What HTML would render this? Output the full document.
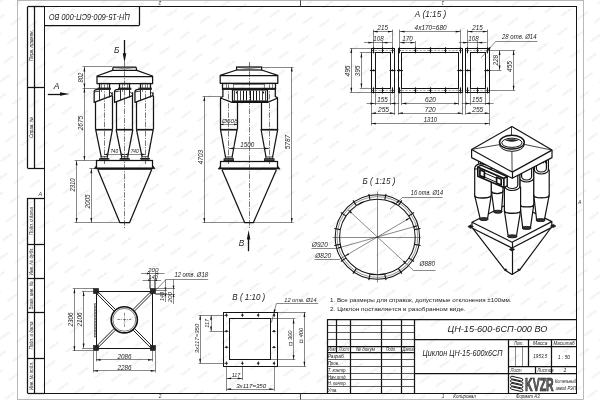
<!DOCTYPE html>
<html><head><meta charset="utf-8"><title>ЦН-15-600-6СП-000 ВО</title>
<style>html,body{margin:0;padding:0;background:#fff;overflow:hidden}svg{display:block;filter:grayscale(1)}text{font-family:"Liberation Sans",sans-serif}</style></head>
<body>
<svg width="600" height="400" viewBox="0 0 600 400">
<rect width="600" height="400" fill="#fff"/>
<defs><pattern id="wm" width="16.8" height="19.4" patternUnits="userSpaceOnUse" patternTransform="rotate(11.3) translate(12.3 8.3)"><text x="8.4" y="10" font-size="2.7" fill="#e3e3e3" text-anchor="middle" font-weight="bold" transform="rotate(-46 8.4 10)">KVZR.RU</text></pattern></defs><rect x="0" y="0" width="600" height="400" fill="url(#wm)"/>
<rect x="17.5" y="0.5" width="566" height="399" fill="none" stroke="#a8a8a8" stroke-width="0.8"/>
<rect x="44.5" y="6.5" width="532" height="387" fill="none" stroke="#141414" stroke-width="1"/>
<line x1="44.4" y1="25.5" x2="139" y2="25.5" stroke="#141414" stroke-width="1.25"/>
<line x1="139.5" y1="6.8" x2="139.5" y2="25.6" stroke="#141414" stroke-width="1.25"/>
<text dominant-baseline="central" x="89.5" y="16.5" font-size="9.2" text-anchor="middle" fill="#222" transform="rotate(180 89.5 16.5)" textLength="81" lengthAdjust="spacingAndGlyphs" font-style="italic">ЦН-15-600-6СП-000 ВО</text>
<line x1="27.5" y1="6.5" x2="44.4" y2="6.5" stroke="#141414" stroke-width="1.25"/>
<line x1="27.5" y1="6.8" x2="27.5" y2="168" stroke="#141414" stroke-width="1.25"/>
<line x1="34.5" y1="6.8" x2="34.5" y2="168" stroke="#141414" stroke-width="1.25"/>
<line x1="27.5" y1="168.5" x2="44.4" y2="168.5" stroke="#141414" stroke-width="1.25"/>
<line x1="27.5" y1="87.5" x2="44.4" y2="87.5" stroke="#141414" stroke-width="1.25"/>
<text x="32.6" y="45.5" font-size="5" text-anchor="middle" fill="#222" transform="rotate(-90 32.6 45.5)" textLength="31" lengthAdjust="spacingAndGlyphs" font-style="italic">Перв. примен.</text>
<text x="32.6" y="127.5" font-size="5" text-anchor="middle" fill="#222" transform="rotate(-90 32.6 127.5)" textLength="21" lengthAdjust="spacingAndGlyphs" font-style="italic">Справ. №</text>
<line x1="27.5" y1="198.5" x2="44.4" y2="198.5" stroke="#141414" stroke-width="1.25"/>
<line x1="27.5" y1="198" x2="27.5" y2="393.2" stroke="#141414" stroke-width="1.25"/>
<line x1="34.5" y1="198" x2="34.5" y2="393.2" stroke="#141414" stroke-width="1.25"/>
<line x1="27.5" y1="393.5" x2="44.4" y2="393.5" stroke="#141414" stroke-width="1.25"/>
<line x1="27.5" y1="244.5" x2="44.4" y2="244.5" stroke="#141414" stroke-width="1.25"/>
<line x1="27.5" y1="278.5" x2="44.4" y2="278.5" stroke="#141414" stroke-width="1.25"/>
<line x1="27.5" y1="312.5" x2="44.4" y2="312.5" stroke="#141414" stroke-width="1.25"/>
<line x1="27.5" y1="358.5" x2="44.4" y2="358.5" stroke="#141414" stroke-width="1.25"/>
<text x="32.7" y="221" font-size="5" text-anchor="middle" fill="#222" transform="rotate(-90 32.7 221)" textLength="28" lengthAdjust="spacingAndGlyphs" font-style="italic">Подп. и дата</text>
<text x="32.7" y="261.3" font-size="5" text-anchor="middle" fill="#222" transform="rotate(-90 32.7 261.3)" textLength="28" lengthAdjust="spacingAndGlyphs" font-style="italic">Инв. № дубл.</text>
<text x="32.7" y="295.4" font-size="5" text-anchor="middle" fill="#222" transform="rotate(-90 32.7 295.4)" textLength="28" lengthAdjust="spacingAndGlyphs" font-style="italic">Взам. инв. №</text>
<text x="32.7" y="335.6" font-size="5" text-anchor="middle" fill="#222" transform="rotate(-90 32.7 335.6)" textLength="28" lengthAdjust="spacingAndGlyphs" font-style="italic">Подп. и дата</text>
<text x="32.7" y="376" font-size="5" text-anchor="middle" fill="#222" transform="rotate(-90 32.7 376)" textLength="28" lengthAdjust="spacingAndGlyphs" font-style="italic">Инв. № подл.</text>
<text x="160" y="1.2" font-size="4.8" text-anchor="middle" fill="#333" transform="rotate(180 160 1.2)" font-style="italic">2</text>
<text x="443" y="1.2" font-size="4.8" text-anchor="middle" fill="#333" transform="rotate(180 443 1.2)" font-style="italic">1</text>
<text x="160" y="398.4" font-size="4.8" text-anchor="middle" fill="#333" font-style="italic">2</text>
<text x="40.3" y="195.9" font-size="5.4" text-anchor="middle" fill="#333" font-style="italic">А</text>
<text x="579.8" y="203.9" font-size="5.2" text-anchor="middle" fill="#333" font-style="italic">А</text>
<line x1="300.5" y1="0.3" x2="300.5" y2="6.8" stroke="#333" stroke-width="0.9"/>
<line x1="300.5" y1="393.2" x2="300.5" y2="399.6" stroke="#333" stroke-width="0.9"/>
<line x1="327.2" y1="319.5" x2="576.2" y2="319.5" stroke="#141414" stroke-width="1.25"/>
<line x1="327.5" y1="319.2" x2="327.5" y2="393.2" stroke="#141414" stroke-width="1.25"/>
<line x1="350.5" y1="319.2" x2="350.5" y2="393.2" stroke="#141414" stroke-width="1.25"/>
<line x1="381.5" y1="319.2" x2="381.5" y2="393.2" stroke="#141414" stroke-width="1.25"/>
<line x1="401.5" y1="319.2" x2="401.5" y2="393.2" stroke="#141414" stroke-width="1.25"/>
<line x1="414.5" y1="319.2" x2="414.5" y2="393.2" stroke="#141414" stroke-width="1.25"/>
<line x1="336.5" y1="319.2" x2="336.5" y2="352.85" stroke="#141414" stroke-width="1.25"/>
<line x1="327.2" y1="325.5" x2="414.7" y2="325.5" stroke="#262626" stroke-width="0.75"/>
<line x1="327.2" y1="332.5" x2="414.7" y2="332.5" stroke="#262626" stroke-width="0.75"/>
<line x1="327.2" y1="339.5" x2="414.7" y2="339.5" stroke="#262626" stroke-width="0.75"/>
<line x1="327.2" y1="346.5" x2="414.7" y2="346.5" stroke="#141414" stroke-width="1.25"/>
<line x1="327.2" y1="352.5" x2="414.7" y2="352.5" stroke="#141414" stroke-width="1.25"/>
<line x1="327.2" y1="359.5" x2="414.7" y2="359.5" stroke="#262626" stroke-width="0.75"/>
<line x1="327.2" y1="366.5" x2="414.7" y2="366.5" stroke="#262626" stroke-width="0.75"/>
<line x1="327.2" y1="373.5" x2="414.7" y2="373.5" stroke="#262626" stroke-width="0.75"/>
<line x1="327.2" y1="379.5" x2="414.7" y2="379.5" stroke="#262626" stroke-width="0.75"/>
<line x1="327.2" y1="386.5" x2="414.7" y2="386.5" stroke="#262626" stroke-width="0.75"/>
<line x1="414.7" y1="339.5" x2="576.2" y2="339.5" stroke="#141414" stroke-width="1.25"/>
<line x1="414.7" y1="373.5" x2="576.2" y2="373.5" stroke="#141414" stroke-width="1.25"/>
<line x1="508.5" y1="339.39" x2="508.5" y2="393.2" stroke="#141414" stroke-width="1.25"/>
<line x1="528.5" y1="339.39" x2="528.5" y2="366.31" stroke="#141414" stroke-width="1.25"/>
<line x1="551.5" y1="339.39" x2="551.5" y2="373.04" stroke="#141414" stroke-width="1.25"/>
<line x1="508.8" y1="346.5" x2="576.2" y2="346.5" stroke="#141414" stroke-width="1.25"/>
<line x1="508.8" y1="366.5" x2="576.2" y2="366.5" stroke="#141414" stroke-width="1.25"/>
<line x1="535.5" y1="366.31" x2="535.5" y2="373.04" stroke="#141414" stroke-width="1.25"/>
<line x1="515.5" y1="346.12" x2="515.5" y2="366.31" stroke="#262626" stroke-width="0.55"/>
<line x1="522.5" y1="346.12" x2="522.5" y2="366.31" stroke="#262626" stroke-width="0.55"/>
<text x="331.7" y="351.42" font-size="6.2" text-anchor="middle" fill="#222" textLength="7.6" lengthAdjust="spacingAndGlyphs" font-style="italic">Изм</text>
<text x="343.8" y="351.42" font-size="6.2" text-anchor="middle" fill="#222" textLength="10" lengthAdjust="spacingAndGlyphs" font-style="italic">Лист</text>
<text x="365.4" y="351.42" font-size="6.2" text-anchor="middle" fill="#222" textLength="19" lengthAdjust="spacingAndGlyphs" font-style="italic">№ докум</text>
<text x="391" y="351.42" font-size="6.2" text-anchor="middle" fill="#222" textLength="10.5" lengthAdjust="spacingAndGlyphs" font-style="italic">Подп.</text>
<text x="408.1" y="351.42" font-size="6.2" text-anchor="middle" fill="#222" textLength="11.2" lengthAdjust="spacingAndGlyphs" font-style="italic">Дата</text>
<text x="327.7" y="358.45" font-size="6.1" text-anchor="start" fill="#222" textLength="17.2" lengthAdjust="spacingAndGlyphs" font-style="italic">Разраб.</text>
<text x="327.7" y="365.18" font-size="6.1" text-anchor="start" fill="#222" textLength="11.5" lengthAdjust="spacingAndGlyphs" font-style="italic">Пров.</text>
<text x="327.7" y="371.91" font-size="6.1" text-anchor="start" fill="#222" textLength="19" lengthAdjust="spacingAndGlyphs" font-style="italic">Т. контр.</text>
<text x="327.7" y="378.64" font-size="6.1" text-anchor="start" fill="#222" textLength="19" lengthAdjust="spacingAndGlyphs" font-style="italic">Нач.отд.</text>
<text x="327.7" y="385.37" font-size="6.1" text-anchor="start" fill="#222" textLength="19" lengthAdjust="spacingAndGlyphs" font-style="italic">Н. контр.</text>
<text x="327.7" y="392.1" font-size="6.1" text-anchor="start" fill="#222" textLength="9.8" lengthAdjust="spacingAndGlyphs" font-style="italic">Утв.</text>
<text x="497.5" y="332" font-size="9" text-anchor="middle" fill="#222" textLength="100" lengthAdjust="spacingAndGlyphs" font-style="italic">ЦН-15-600-6СП-000 ВО</text>
<text x="462.5" y="356.1" font-size="9.7" text-anchor="middle" fill="#222" textLength="80" lengthAdjust="spacingAndGlyphs" font-style="italic">Циклон ЦН-15-600х6СП</text>
<text x="518.8" y="344.89" font-size="6" text-anchor="middle" fill="#222" textLength="9.5" lengthAdjust="spacingAndGlyphs" font-style="italic">Лит.</text>
<text x="540.3" y="344.89" font-size="6" text-anchor="middle" fill="#222" textLength="14.5" lengthAdjust="spacingAndGlyphs" font-style="italic">Масса</text>
<text x="564" y="344.89" font-size="6" text-anchor="middle" fill="#222" textLength="21" lengthAdjust="spacingAndGlyphs" font-style="italic">Масштаб</text>
<text x="540.3" y="358.3" font-size="6" text-anchor="middle" fill="#222" textLength="14" lengthAdjust="spacingAndGlyphs" font-style="italic">1953,5</text>
<text x="564" y="358.5" font-size="6.2" text-anchor="middle" fill="#222" textLength="12" lengthAdjust="spacingAndGlyphs" font-style="italic">1 : 50</text>
<text x="510.6" y="371.81" font-size="6" text-anchor="start" fill="#222" textLength="11" lengthAdjust="spacingAndGlyphs" font-style="italic">Лист</text>
<text x="537.2" y="371.81" font-size="6" text-anchor="start" fill="#222" textLength="16.5" lengthAdjust="spacingAndGlyphs" font-style="italic">Листов</text>
<text x="565" y="371.71" font-size="6" text-anchor="middle" fill="#222" font-style="italic">1</text>
<text x="443" y="398.4" font-size="4.8" text-anchor="middle" fill="#333" font-style="italic">1</text>
<text x="464.6" y="397.6" font-size="6" text-anchor="middle" fill="#222" textLength="22.5" lengthAdjust="spacingAndGlyphs" font-style="italic">Копировал</text>
<text x="527.8" y="397.6" font-size="6" text-anchor="middle" fill="#222" textLength="23.5" lengthAdjust="spacingAndGlyphs" font-style="italic">Формат А3</text>
<text x="565.6" y="382.8" font-size="6.1" text-anchor="middle" fill="#222" textLength="21" lengthAdjust="spacingAndGlyphs" font-style="italic">Котельный</text>
<text x="565.8" y="390.2" font-size="6.1" text-anchor="middle" fill="#222" textLength="20" lengthAdjust="spacingAndGlyphs" font-style="italic">завод РЭП</text>
<rect x="510.4" y="377.4" width="12.6" height="2.5" rx="1.25" fill="#fff" stroke="#111" stroke-width="0.9" transform="rotate(13 516.7 378.65)"/>
<rect x="510.4" y="380.9" width="12.6" height="2.5" rx="1.25" fill="#fff" stroke="#111" stroke-width="0.9" transform="rotate(13 516.7 382.15)"/>
<rect x="510.4" y="384.4" width="12.6" height="2.5" rx="1.25" fill="#fff" stroke="#111" stroke-width="0.9" transform="rotate(13 516.7 385.65)"/>
<rect x="510.4" y="387.9" width="12.6" height="2.5" rx="1.25" fill="#fff" stroke="#111" stroke-width="0.9" transform="rotate(13 516.7 389.15)"/>
<text x="539.4" y="390.7" font-size="19.2" text-anchor="middle" font-weight="bold" fill="#666" stroke="#111" stroke-width="0.7" textLength="28.6" lengthAdjust="spacingAndGlyphs">KVZR</text>
<text x="330" y="302.1" font-size="5.9" text-anchor="start" fill="#222" textLength="181.5" lengthAdjust="spacingAndGlyphs">1. Все размеры для справок, допустимые отклонения ±100мм.</text>
<text x="330" y="311.1" font-size="5.9" text-anchor="start" fill="#222" textLength="135.5" lengthAdjust="spacingAndGlyphs">2. Циклон поставляется в разобранном виде.</text>
<line x1="124.5" y1="62" x2="124.5" y2="228.5" stroke="#222" stroke-width="0.6" stroke-dasharray="5.5 1.3 1.2 1.3"/>
<polygon points="113.2,67.2 112.5,70.3 136.7,70.3 136,67.2" fill="none" stroke="#141414" stroke-width="1.25" stroke-linejoin="round"/>
<polyline points="112.5,70.3 97,76 97,83.5 152.6,83.5 152.6,76 136.7,70.3" fill="none" stroke="#141414" stroke-width="1.25" stroke-linejoin="round"/>
<line x1="97" y1="76.5" x2="152.6" y2="76.5" stroke="#141414" stroke-width="1.25"/>
<path d="M114,67.6 Q124.6,70 135.2,67.6" fill="none" stroke="#262626" stroke-width="0.55" stroke-linejoin="round"/>
<line x1="104.5" y1="84.5" x2="104.5" y2="164" stroke="#222" stroke-width="0.6" stroke-dasharray="5.5 1.3 1.2 1.3"/>
<rect x="99.5" y="83.5" width="10" height="5" fill="none" stroke="#141414" stroke-width="1.25"/>
<line x1="101.5" y1="83.4" x2="101.5" y2="88.1" stroke="#262626" stroke-width="0.55"/>
<line x1="107.5" y1="83.4" x2="107.5" y2="88.1" stroke="#262626" stroke-width="0.55"/>
<rect x="98.05" y="88.1" width="12.5" height="1.3" fill="#333" stroke="#141414" stroke-width="0.8"/>
<path d="M98.05,89.4 Q94.15,89.5 94.15,91.6 L94.15,102.4 L112.15,95.7 L112.15,92.2" fill="none" stroke="#141414" stroke-width="1.25" stroke-linejoin="round"/>
<line x1="94.15" y1="91.9" x2="99.25" y2="91.1" stroke="#141414" stroke-width="0.8"/>
<line x1="109.45" y1="91.8" x2="112.15" y2="94" stroke="#141414" stroke-width="0.8"/>
<line x1="99.5" y1="89.4" x2="99.5" y2="99.9" stroke="#141414" stroke-width="0.9"/>
<line x1="109.5" y1="89.4" x2="109.5" y2="97.4" stroke="#141414" stroke-width="0.9"/>
<line x1="101.5" y1="89.4" x2="101.5" y2="92" stroke="#262626" stroke-width="0.55"/>
<line x1="95.5" y1="102" x2="95.5" y2="129.3" stroke="#141414" stroke-width="1.25"/>
<line x1="112.5" y1="95.8" x2="112.5" y2="129.3" stroke="#141414" stroke-width="1.25"/>
<line x1="95.65" y1="129.5" x2="112.45" y2="129.5" stroke="#141414" stroke-width="1.25"/>
<line x1="95.65" y1="130.5" x2="112.45" y2="130.5" stroke="#262626" stroke-width="0.55"/>
<line x1="95.65" y1="129.3" x2="101.25" y2="156.8" stroke="#141414" stroke-width="1.25"/>
<line x1="112.45" y1="129.3" x2="107.25" y2="156.8" stroke="#141414" stroke-width="1.25"/>
<rect x="101.05" y="156.8" width="6.4" height="1.8" fill="none" stroke="#141414" stroke-width="0.8"/>
<rect x="99.65" y="158.6" width="9.2" height="1.8" fill="#555" stroke="#141414" stroke-width="0.8"/>
<rect x="119.5" y="83.5" width="10" height="5" fill="none" stroke="#141414" stroke-width="1.25"/>
<line x1="122.5" y1="83.4" x2="122.5" y2="88.1" stroke="#262626" stroke-width="0.55"/>
<line x1="127.5" y1="83.4" x2="127.5" y2="88.1" stroke="#262626" stroke-width="0.55"/>
<rect x="118.45" y="88.1" width="12.5" height="1.3" fill="#333" stroke="#141414" stroke-width="0.8"/>
<path d="M118.45,89.4 Q114.55,89.5 114.55,91.6 L114.55,102.4 L132.55,95.7 L132.55,92.2" fill="none" stroke="#141414" stroke-width="1.25" stroke-linejoin="round"/>
<line x1="114.55" y1="91.9" x2="119.65" y2="91.1" stroke="#141414" stroke-width="0.8"/>
<line x1="129.85" y1="91.8" x2="132.55" y2="94" stroke="#141414" stroke-width="0.8"/>
<line x1="120.5" y1="89.4" x2="120.5" y2="99.9" stroke="#141414" stroke-width="0.9"/>
<line x1="129.5" y1="89.4" x2="129.5" y2="97.4" stroke="#141414" stroke-width="0.9"/>
<line x1="122.5" y1="89.4" x2="122.5" y2="92" stroke="#262626" stroke-width="0.55"/>
<line x1="116.5" y1="102" x2="116.5" y2="129.3" stroke="#141414" stroke-width="1.25"/>
<line x1="132.5" y1="95.8" x2="132.5" y2="129.3" stroke="#141414" stroke-width="1.25"/>
<line x1="116.05" y1="129.5" x2="132.85" y2="129.5" stroke="#141414" stroke-width="1.25"/>
<line x1="116.05" y1="130.5" x2="132.85" y2="130.5" stroke="#262626" stroke-width="0.55"/>
<line x1="116.05" y1="129.3" x2="121.65" y2="156.8" stroke="#141414" stroke-width="1.25"/>
<line x1="132.85" y1="129.3" x2="127.65" y2="156.8" stroke="#141414" stroke-width="1.25"/>
<rect x="121.45" y="156.8" width="6.4" height="1.8" fill="none" stroke="#141414" stroke-width="0.8"/>
<rect x="120.05" y="158.6" width="9.2" height="1.8" fill="#555" stroke="#141414" stroke-width="0.8"/>
<line x1="145.5" y1="84.5" x2="145.5" y2="164" stroke="#222" stroke-width="0.6" stroke-dasharray="5.5 1.3 1.2 1.3"/>
<rect x="140.5" y="83.5" width="10" height="5" fill="none" stroke="#141414" stroke-width="1.25"/>
<line x1="142.5" y1="83.4" x2="142.5" y2="88.1" stroke="#262626" stroke-width="0.55"/>
<line x1="147.5" y1="83.4" x2="147.5" y2="88.1" stroke="#262626" stroke-width="0.55"/>
<rect x="138.85" y="88.1" width="12.5" height="1.3" fill="#333" stroke="#141414" stroke-width="0.8"/>
<path d="M138.85,89.4 Q134.95,89.5 134.95,91.6 L134.95,102.4 L152.95,95.7 L152.95,92.2" fill="none" stroke="#141414" stroke-width="1.25" stroke-linejoin="round"/>
<line x1="134.95" y1="91.9" x2="140.05" y2="91.1" stroke="#141414" stroke-width="0.8"/>
<line x1="150.25" y1="91.8" x2="152.95" y2="94" stroke="#141414" stroke-width="0.8"/>
<line x1="140.5" y1="89.4" x2="140.5" y2="99.9" stroke="#141414" stroke-width="0.9"/>
<line x1="150.5" y1="89.4" x2="150.5" y2="97.4" stroke="#141414" stroke-width="0.9"/>
<line x1="142.5" y1="89.4" x2="142.5" y2="92" stroke="#262626" stroke-width="0.55"/>
<line x1="136.5" y1="102" x2="136.5" y2="129.3" stroke="#141414" stroke-width="1.25"/>
<line x1="153.5" y1="95.8" x2="153.5" y2="129.3" stroke="#141414" stroke-width="1.25"/>
<line x1="136.45" y1="129.5" x2="153.25" y2="129.5" stroke="#141414" stroke-width="1.25"/>
<line x1="136.45" y1="130.5" x2="153.25" y2="130.5" stroke="#262626" stroke-width="0.55"/>
<line x1="136.45" y1="129.3" x2="142.05" y2="156.8" stroke="#141414" stroke-width="1.25"/>
<line x1="153.25" y1="129.3" x2="148.05" y2="156.8" stroke="#141414" stroke-width="1.25"/>
<rect x="141.85" y="156.8" width="6.4" height="1.8" fill="none" stroke="#141414" stroke-width="0.8"/>
<rect x="140.45" y="158.6" width="9.2" height="1.8" fill="#555" stroke="#141414" stroke-width="0.8"/>
<rect x="96.5" y="160.5" width="56" height="8" fill="none" stroke="#141414" stroke-width="1.25"/>
<line x1="96.4" y1="167.5" x2="152.8" y2="167.5" stroke="#262626" stroke-width="0.55"/>
<polygon points="96.4,165.8 94.2,168.6 96.4,168.6" fill="#333" stroke="#141414" stroke-width="0.8" stroke-linejoin="round"/>
<polygon points="152.8,165.8 155,168.6 152.8,168.6" fill="#333" stroke="#141414" stroke-width="0.8" stroke-linejoin="round"/>
<line x1="97.6" y1="169.5" x2="151.8" y2="169.5" stroke="#141414" stroke-width="0.8"/>
<polyline points="97.8,169.4 119.8,222.5 129.6,222.5 151.7,169.4" fill="none" stroke="#141414" stroke-width="1.25" stroke-linejoin="round"/>
<line x1="82.5" y1="66.5" x2="112.5" y2="66.5" stroke="#262626" stroke-width="0.55"/>
<line x1="82.5" y1="88.5" x2="98.5" y2="88.5" stroke="#262626" stroke-width="0.55"/>
<line x1="74.6" y1="160.5" x2="96.4" y2="160.5" stroke="#262626" stroke-width="0.55"/>
<line x1="74.6" y1="222.5" x2="119.8" y2="222.5" stroke="#262626" stroke-width="0.55"/>
<line x1="89.3" y1="168.5" x2="96" y2="168.5" stroke="#262626" stroke-width="0.55"/>
<line x1="84.5" y1="66.8" x2="84.5" y2="88" stroke="#262626" stroke-width="0.55"/>
<polygon points="84.4,66.8 85.32,71.4 83.48,71.4" fill="#111"/>
<polygon points="84.4,88 83.48,83.4 85.32,83.4" fill="#111"/>
<text x="82.9" y="77.6" font-size="6.3" text-anchor="middle" fill="#222" transform="rotate(-90 82.9 77.6)" textLength="10" lengthAdjust="spacingAndGlyphs" font-style="italic">802</text>
<line x1="84.5" y1="88" x2="84.5" y2="160.6" stroke="#262626" stroke-width="0.55"/>
<polygon points="84.4,88 85.32,92.6 83.48,92.6" fill="#111"/>
<polygon points="84.4,160.6 83.48,156 85.32,156" fill="#111"/>
<text x="82.9" y="123" font-size="6.6" text-anchor="middle" fill="#222" transform="rotate(-90 82.9 123)" textLength="14.5" lengthAdjust="spacingAndGlyphs" font-style="italic">2675</text>
<line x1="76.5" y1="160.6" x2="76.5" y2="222.5" stroke="#262626" stroke-width="0.55"/>
<polygon points="76.6,160.6 77.52,165.2 75.68,165.2" fill="#111"/>
<polygon points="76.6,222.5 75.68,217.9 77.52,217.9" fill="#111"/>
<text x="75" y="185" font-size="6.6" text-anchor="middle" fill="#222" transform="rotate(-90 75 185)" textLength="13.2" lengthAdjust="spacingAndGlyphs" font-style="italic">2310</text>
<line x1="91.5" y1="168.6" x2="91.5" y2="222.5" stroke="#262626" stroke-width="0.55"/>
<polygon points="91.3,168.6 92.22,173.2 90.38,173.2" fill="#111"/>
<polygon points="91.3,222.5 90.38,217.9 92.22,217.9" fill="#111"/>
<text x="89.7" y="201.4" font-size="6.6" text-anchor="middle" fill="#222" transform="rotate(-90 89.7 201.4)" textLength="14" lengthAdjust="spacingAndGlyphs" font-style="italic">2005</text>
<line x1="104.25" y1="154.5" x2="145.05" y2="154.5" stroke="#262626" stroke-width="0.55"/>
<polygon points="104.25,154.4 107.25,153.48 107.25,155.32" fill="#111"/>
<polygon points="124.65,154.4 121.65,155.32 121.65,153.48" fill="#111"/>
<polygon points="124.65,154.4 127.65,153.48 127.65,155.32" fill="#111"/>
<polygon points="145.05,154.4 142.05,155.32 142.05,153.48" fill="#111"/>
<text x="114.2" y="153.3" font-size="5.6" text-anchor="middle" fill="#222" textLength="8" lengthAdjust="spacingAndGlyphs" font-style="italic">740</text>
<text x="134.7" y="153.3" font-size="5.6" text-anchor="middle" fill="#222" textLength="8" lengthAdjust="spacingAndGlyphs" font-style="italic">740</text>
<line x1="47.8" y1="94.5" x2="62" y2="94.5" stroke="#141414" stroke-width="1.3"/>
<polygon points="69.6,94 60,95.75 60,92.25" fill="#141414"/>
<text x="56.7" y="89" font-size="8.6" text-anchor="middle" fill="#222" font-style="italic">А</text>
<line x1="124.5" y1="40" x2="124.5" y2="55" stroke="#141414" stroke-width="1.3"/>
<polygon points="124.5,62.8 122.75,53.2 126.25,53.2" fill="#141414"/>
<text x="116.6" y="52.9" font-size="8.2" text-anchor="middle" fill="#222" font-style="italic">Б</text>
<line x1="249.5" y1="62" x2="249.5" y2="228.5" stroke="#222" stroke-width="0.6" stroke-dasharray="5.5 1.3 1.2 1.3"/>
<rect x="236.6" y="67" width="25" height="3" fill="none" stroke="#141414" stroke-width="1.25"/>
<path d="M238,67.4 Q249,69.8 260,67.4" fill="none" stroke="#262626" stroke-width="0.55" stroke-linejoin="round"/>
<polyline points="236.6,70 220.2,75.3 220.2,83.3 277.8,83.3 277.8,75.3 261.6,70" fill="none" stroke="#141414" stroke-width="1.25" stroke-linejoin="round"/>
<line x1="220.2" y1="75.5" x2="277.8" y2="75.5" stroke="#141414" stroke-width="1.25"/>
<rect x="222.5" y="83.5" width="53" height="5" fill="none" stroke="#141414" stroke-width="1.25"/>
<rect x="222.5" y="88.3" width="53.2" height="1.3" fill="#444" stroke="#141414" stroke-width="0.8"/>
<line x1="226.5" y1="83.3" x2="226.5" y2="88.3" stroke="#262626" stroke-width="0.55"/>
<line x1="233.5" y1="83.3" x2="233.5" y2="88.3" stroke="#262626" stroke-width="0.55"/>
<line x1="264.5" y1="83.3" x2="264.5" y2="88.3" stroke="#262626" stroke-width="0.55"/>
<line x1="272.5" y1="83.3" x2="272.5" y2="88.3" stroke="#262626" stroke-width="0.55"/>
<line x1="233.3" y1="84.5" x2="264.7" y2="84.5" stroke="#262626" stroke-width="0.55"/>
<path d="M222.9,89.6 L222.9,96.6 Q221,97 220.4,98.2 M275.3,89.6 L275.3,96.6 Q277.2,97 277.8,98.2" fill="none" stroke="#141414" stroke-width="1.25" stroke-linejoin="round"/>
<polyline points="220.4,98 232,102.4 267.6,102.4 277.8,98" fill="none" stroke="#141414" stroke-width="1.25" stroke-linejoin="round"/>
<rect x="232.5" y="89.5" width="35" height="12" fill="none" stroke="#141414" stroke-width="1.25"/>
<line x1="232" y1="100.5" x2="267.6" y2="100.5" stroke="#262626" stroke-width="0.55"/>
<line x1="232" y1="90.5" x2="267.6" y2="90.5" stroke="#262626" stroke-width="0.55"/>
<line x1="234.5" y1="90.8" x2="234.5" y2="100.6" stroke="#141414" stroke-width="0.8"/>
<line x1="237.5" y1="90.8" x2="237.5" y2="100.6" stroke="#141414" stroke-width="0.8"/>
<line x1="240.5" y1="90.8" x2="240.5" y2="100.6" stroke="#141414" stroke-width="0.8"/>
<line x1="243.5" y1="90.8" x2="243.5" y2="100.6" stroke="#141414" stroke-width="1"/>
<line x1="246.5" y1="90.8" x2="246.5" y2="100.6" stroke="#141414" stroke-width="1"/>
<line x1="250.5" y1="90.8" x2="250.5" y2="100.6" stroke="#141414" stroke-width="1"/>
<line x1="253.5" y1="90.8" x2="253.5" y2="100.6" stroke="#141414" stroke-width="1"/>
<line x1="256.5" y1="90.8" x2="256.5" y2="100.6" stroke="#141414" stroke-width="1"/>
<line x1="259.5" y1="90.8" x2="259.5" y2="100.6" stroke="#141414" stroke-width="0.8"/>
<line x1="262.5" y1="90.8" x2="262.5" y2="100.6" stroke="#141414" stroke-width="0.8"/>
<line x1="265.5" y1="90.8" x2="265.5" y2="100.6" stroke="#141414" stroke-width="0.8"/>
<line x1="236.5" y1="91.6" x2="236.5" y2="93.4" stroke="#141414" stroke-width="1.2"/>
<line x1="263.5" y1="91.6" x2="263.5" y2="93.4" stroke="#141414" stroke-width="1.2"/>
<line x1="228.5" y1="84.5" x2="228.5" y2="164" stroke="#222" stroke-width="0.6" stroke-dasharray="5.5 1.3 1.2 1.3"/>
<line x1="220.5" y1="98" x2="220.5" y2="129" stroke="#141414" stroke-width="1.25"/>
<line x1="237.5" y1="102.4" x2="237.5" y2="129" stroke="#141414" stroke-width="1.25"/>
<line x1="220.4" y1="129.5" x2="237.2" y2="129.5" stroke="#141414" stroke-width="1.25"/>
<line x1="220.4" y1="130.5" x2="237.2" y2="130.5" stroke="#262626" stroke-width="0.55"/>
<line x1="220.4" y1="129" x2="225.5" y2="157" stroke="#141414" stroke-width="1.25"/>
<line x1="237.2" y1="129" x2="232.1" y2="157" stroke="#141414" stroke-width="1.25"/>
<rect x="225.3" y="157" width="7" height="1.8" fill="none" stroke="#141414" stroke-width="0.8"/>
<rect x="224" y="158.8" width="9.6" height="1.8" fill="#555" stroke="#141414" stroke-width="0.8"/>
<line x1="269.5" y1="84.5" x2="269.5" y2="164" stroke="#222" stroke-width="0.6" stroke-dasharray="5.5 1.3 1.2 1.3"/>
<line x1="261.5" y1="102.4" x2="261.5" y2="129" stroke="#141414" stroke-width="1.25"/>
<line x1="277.5" y1="98" x2="277.5" y2="129" stroke="#141414" stroke-width="1.25"/>
<line x1="261" y1="129.5" x2="277.8" y2="129.5" stroke="#141414" stroke-width="1.25"/>
<line x1="261" y1="130.5" x2="277.8" y2="130.5" stroke="#262626" stroke-width="0.55"/>
<line x1="261" y1="129" x2="266" y2="157" stroke="#141414" stroke-width="1.25"/>
<line x1="277.8" y1="129" x2="272.6" y2="157" stroke="#141414" stroke-width="1.25"/>
<rect x="265.8" y="157" width="7" height="1.8" fill="none" stroke="#141414" stroke-width="0.8"/>
<rect x="264.5" y="158.8" width="9.6" height="1.8" fill="#555" stroke="#141414" stroke-width="0.8"/>
<rect x="220.5" y="161.5" width="57" height="7" fill="none" stroke="#141414" stroke-width="1.25"/>
<line x1="220.4" y1="167.5" x2="277.8" y2="167.5" stroke="#262626" stroke-width="0.55"/>
<polygon points="220.4,166.2 218.2,169 220.4,169" fill="#333" stroke="#141414" stroke-width="0.8" stroke-linejoin="round"/>
<polygon points="277.8,166.2 280,169 277.8,169" fill="#333" stroke="#141414" stroke-width="0.8" stroke-linejoin="round"/>
<line x1="221.8" y1="169.5" x2="276.6" y2="169.5" stroke="#141414" stroke-width="0.8"/>
<polyline points="222,169.8 244.6,222.6 253.4,222.6 276.4,169.8" fill="none" stroke="#141414" stroke-width="1.25" stroke-linejoin="round"/>
<line x1="202.6" y1="96.5" x2="221" y2="96.5" stroke="#262626" stroke-width="0.55"/>
<line x1="202.6" y1="222.5" x2="244.6" y2="222.5" stroke="#262626" stroke-width="0.55"/>
<line x1="253.4" y1="222.5" x2="293.6" y2="222.5" stroke="#262626" stroke-width="0.55"/>
<line x1="261.6" y1="67.5" x2="293.6" y2="67.5" stroke="#262626" stroke-width="0.55"/>
<line x1="204.5" y1="96.4" x2="204.5" y2="222.6" stroke="#262626" stroke-width="0.55"/>
<polygon points="204.3,96.4 205.22,101 203.38,101" fill="#111"/>
<polygon points="204.3,222.6 203.38,218 205.22,218" fill="#111"/>
<text x="202.7" y="157" font-size="6.6" text-anchor="middle" fill="#222" transform="rotate(-90 202.7 157)" textLength="14.5" lengthAdjust="spacingAndGlyphs" font-style="italic">4703</text>
<line x1="291.5" y1="67" x2="291.5" y2="222.6" stroke="#262626" stroke-width="0.55"/>
<polygon points="291.8,67 292.72,71.6 290.88,71.6" fill="#111"/>
<polygon points="291.8,222.6 290.88,218 292.72,218" fill="#111"/>
<text x="290.2" y="142" font-size="6.6" text-anchor="middle" fill="#222" transform="rotate(-90 290.2 142)" textLength="14.5" lengthAdjust="spacingAndGlyphs" font-style="italic">5787</text>
<line x1="228.8" y1="148.5" x2="269.3" y2="148.5" stroke="#262626" stroke-width="0.55"/>
<polygon points="228.8,148.4 233.4,147.48 233.4,149.32" fill="#111"/>
<polygon points="269.3,148.4 264.7,149.32 264.7,147.48" fill="#111"/>
<text x="247.3" y="147.2" font-size="6.6" text-anchor="middle" fill="#222" textLength="14" lengthAdjust="spacingAndGlyphs" font-style="italic">1500</text>
<text x="222" y="123.2" font-size="6.2" text-anchor="start" fill="#222" textLength="15.8" lengthAdjust="spacingAndGlyphs" font-style="italic">Ø608</text>
<line x1="220.4" y1="124.5" x2="237.2" y2="124.5" stroke="#262626" stroke-width="0.55"/>
<polygon points="220.4,124.4 223.4,123.48 223.4,125.32" fill="#111"/>
<polygon points="237.2,124.4 234.2,125.32 234.2,123.48" fill="#111"/>
<line x1="248.5" y1="238" x2="248.5" y2="251.2" stroke="#141414" stroke-width="1.3"/>
<polygon points="248.6,230 250.35,239.6 246.85,239.6" fill="#141414"/>
<text x="241.6" y="246.2" font-size="8.2" text-anchor="middle" fill="#222" font-style="italic">В</text>
<text x="430.5" y="17.4" font-size="9" text-anchor="middle" fill="#222" textLength="31.5" lengthAdjust="spacingAndGlyphs" font-style="italic">А (1:15 )</text>
<rect x="371.5" y="48.5" width="23" height="44" fill="none" stroke="#141414" stroke-width="1"/>
<rect x="375.5" y="52.5" width="15" height="36" fill="none" stroke="#141414" stroke-width="1"/>
<line x1="371.3" y1="50.5" x2="394.5" y2="50.5" stroke="#333" stroke-width="0.4" stroke-dasharray="2.2 1.4"/>
<line x1="371.3" y1="90.5" x2="394.5" y2="90.5" stroke="#333" stroke-width="0.4" stroke-dasharray="2.2 1.4"/>
<rect x="398.5" y="48.5" width="64" height="44" fill="none" stroke="#141414" stroke-width="1"/>
<rect x="401.5" y="52.5" width="57" height="36" fill="none" stroke="#141414" stroke-width="1"/>
<line x1="398.2" y1="50.5" x2="462.5" y2="50.5" stroke="#333" stroke-width="0.4" stroke-dasharray="2.2 1.4"/>
<line x1="398.2" y1="90.5" x2="462.5" y2="90.5" stroke="#333" stroke-width="0.4" stroke-dasharray="2.2 1.4"/>
<rect x="465.5" y="48.5" width="24" height="44" fill="none" stroke="#141414" stroke-width="1"/>
<rect x="470.5" y="52.5" width="15" height="36" fill="none" stroke="#141414" stroke-width="1"/>
<line x1="465.9" y1="50.5" x2="489.4" y2="50.5" stroke="#333" stroke-width="0.4" stroke-dasharray="2.2 1.4"/>
<line x1="465.9" y1="90.5" x2="489.4" y2="90.5" stroke="#333" stroke-width="0.4" stroke-dasharray="2.2 1.4"/>
<line x1="373.5" y1="47.3" x2="373.5" y2="53.3" stroke="#141414" stroke-width="1.15"/>
<line x1="371.8" y1="50.5" x2="374.2" y2="50.5" stroke="#262626" stroke-width="0.7"/>
<line x1="373.5" y1="87.4" x2="373.5" y2="93.4" stroke="#141414" stroke-width="1.15"/>
<line x1="371.8" y1="90.5" x2="374.2" y2="90.5" stroke="#262626" stroke-width="0.7"/>
<line x1="382.5" y1="47.3" x2="382.5" y2="53.3" stroke="#141414" stroke-width="1.15"/>
<line x1="381.6" y1="50.5" x2="384" y2="50.5" stroke="#262626" stroke-width="0.7"/>
<line x1="382.5" y1="87.4" x2="382.5" y2="93.4" stroke="#141414" stroke-width="1.15"/>
<line x1="381.6" y1="90.5" x2="384" y2="90.5" stroke="#262626" stroke-width="0.7"/>
<line x1="392.5" y1="47.3" x2="392.5" y2="53.3" stroke="#141414" stroke-width="1.15"/>
<line x1="391.4" y1="50.5" x2="393.8" y2="50.5" stroke="#262626" stroke-width="0.7"/>
<line x1="392.5" y1="87.4" x2="392.5" y2="93.4" stroke="#141414" stroke-width="1.15"/>
<line x1="391.4" y1="90.5" x2="393.8" y2="90.5" stroke="#262626" stroke-width="0.7"/>
<line x1="370" y1="70.5" x2="376" y2="70.5" stroke="#141414" stroke-width="1.15"/>
<line x1="373.5" y1="69" x2="373.5" y2="71.4" stroke="#262626" stroke-width="0.7"/>
<line x1="389.6" y1="70.5" x2="395.6" y2="70.5" stroke="#141414" stroke-width="1.15"/>
<line x1="392.5" y1="69" x2="392.5" y2="71.4" stroke="#262626" stroke-width="0.7"/>
<line x1="399.5" y1="47.3" x2="399.5" y2="53.3" stroke="#141414" stroke-width="1.15"/>
<line x1="398.7" y1="50.5" x2="401.1" y2="50.5" stroke="#262626" stroke-width="0.7"/>
<line x1="399.5" y1="87.4" x2="399.5" y2="93.4" stroke="#141414" stroke-width="1.15"/>
<line x1="398.7" y1="90.5" x2="401.1" y2="90.5" stroke="#262626" stroke-width="0.7"/>
<line x1="415.5" y1="47.3" x2="415.5" y2="53.3" stroke="#141414" stroke-width="1.15"/>
<line x1="413.8" y1="50.5" x2="416.2" y2="50.5" stroke="#262626" stroke-width="0.7"/>
<line x1="415.5" y1="87.4" x2="415.5" y2="93.4" stroke="#141414" stroke-width="1.15"/>
<line x1="413.8" y1="90.5" x2="416.2" y2="90.5" stroke="#262626" stroke-width="0.7"/>
<line x1="430.5" y1="47.3" x2="430.5" y2="53.3" stroke="#141414" stroke-width="1.15"/>
<line x1="428.9" y1="50.5" x2="431.3" y2="50.5" stroke="#262626" stroke-width="0.7"/>
<line x1="430.5" y1="87.4" x2="430.5" y2="93.4" stroke="#141414" stroke-width="1.15"/>
<line x1="428.9" y1="90.5" x2="431.3" y2="90.5" stroke="#262626" stroke-width="0.7"/>
<line x1="445.5" y1="47.3" x2="445.5" y2="53.3" stroke="#141414" stroke-width="1.15"/>
<line x1="444" y1="50.5" x2="446.4" y2="50.5" stroke="#262626" stroke-width="0.7"/>
<line x1="445.5" y1="87.4" x2="445.5" y2="93.4" stroke="#141414" stroke-width="1.15"/>
<line x1="444" y1="90.5" x2="446.4" y2="90.5" stroke="#262626" stroke-width="0.7"/>
<line x1="460.5" y1="47.3" x2="460.5" y2="53.3" stroke="#141414" stroke-width="1.15"/>
<line x1="459.1" y1="50.5" x2="461.5" y2="50.5" stroke="#262626" stroke-width="0.7"/>
<line x1="460.5" y1="87.4" x2="460.5" y2="93.4" stroke="#141414" stroke-width="1.15"/>
<line x1="459.1" y1="90.5" x2="461.5" y2="90.5" stroke="#262626" stroke-width="0.7"/>
<line x1="396.9" y1="70.5" x2="402.9" y2="70.5" stroke="#141414" stroke-width="1.15"/>
<line x1="399.5" y1="69" x2="399.5" y2="71.4" stroke="#262626" stroke-width="0.7"/>
<line x1="457.3" y1="70.5" x2="463.3" y2="70.5" stroke="#141414" stroke-width="1.15"/>
<line x1="460.5" y1="69" x2="460.5" y2="71.4" stroke="#262626" stroke-width="0.7"/>
<line x1="467.5" y1="47.3" x2="467.5" y2="53.3" stroke="#141414" stroke-width="1.15"/>
<line x1="466.6" y1="50.5" x2="469" y2="50.5" stroke="#262626" stroke-width="0.7"/>
<line x1="467.5" y1="87.4" x2="467.5" y2="93.4" stroke="#141414" stroke-width="1.15"/>
<line x1="466.6" y1="90.5" x2="469" y2="90.5" stroke="#262626" stroke-width="0.7"/>
<line x1="477.5" y1="47.3" x2="477.5" y2="53.3" stroke="#141414" stroke-width="1.15"/>
<line x1="476.4" y1="50.5" x2="478.8" y2="50.5" stroke="#262626" stroke-width="0.7"/>
<line x1="477.5" y1="87.4" x2="477.5" y2="93.4" stroke="#141414" stroke-width="1.15"/>
<line x1="476.4" y1="90.5" x2="478.8" y2="90.5" stroke="#262626" stroke-width="0.7"/>
<line x1="487.5" y1="47.3" x2="487.5" y2="53.3" stroke="#141414" stroke-width="1.15"/>
<line x1="486.2" y1="50.5" x2="488.6" y2="50.5" stroke="#262626" stroke-width="0.7"/>
<line x1="487.5" y1="87.4" x2="487.5" y2="93.4" stroke="#141414" stroke-width="1.15"/>
<line x1="486.2" y1="90.5" x2="488.6" y2="90.5" stroke="#262626" stroke-width="0.7"/>
<line x1="464.8" y1="70.5" x2="470.8" y2="70.5" stroke="#141414" stroke-width="1.15"/>
<line x1="467.5" y1="69" x2="467.5" y2="71.4" stroke="#262626" stroke-width="0.7"/>
<line x1="484.4" y1="70.5" x2="490.4" y2="70.5" stroke="#141414" stroke-width="1.15"/>
<line x1="487.5" y1="69" x2="487.5" y2="71.4" stroke="#262626" stroke-width="0.7"/>
<line x1="373.5" y1="29.5" x2="373.5" y2="48.5" stroke="#262626" stroke-width="0.55"/>
<line x1="392.5" y1="29.5" x2="392.5" y2="48.5" stroke="#262626" stroke-width="0.55"/>
<line x1="382.5" y1="41" x2="382.5" y2="48.5" stroke="#262626" stroke-width="0.55"/>
<line x1="373" y1="31.5" x2="392.6" y2="31.5" stroke="#262626" stroke-width="0.55"/>
<polygon points="373,31.6 377.6,30.68 377.6,32.52" fill="#111"/>
<polygon points="392.6,31.6 388,32.52 388,30.68" fill="#111"/>
<text x="382.8" y="30.2" font-size="6.7" text-anchor="middle" fill="#222" textLength="10.5" lengthAdjust="spacingAndGlyphs" font-style="italic">215</text>
<line x1="364" y1="42.5" x2="391.8" y2="42.5" stroke="#262626" stroke-width="0.55"/>
<polygon points="373,42.7 368.4,43.62 368.4,41.78" fill="#111"/>
<polygon points="382.8,42.7 387.4,41.78 387.4,43.62" fill="#111"/>
<text x="378.6" y="41.4" font-size="6.7" text-anchor="middle" fill="#222" textLength="10.5" lengthAdjust="spacingAndGlyphs" font-style="italic">108</text>
<line x1="399.5" y1="29.5" x2="399.5" y2="48.5" stroke="#262626" stroke-width="0.55"/>
<line x1="460.5" y1="29.5" x2="460.5" y2="48.5" stroke="#262626" stroke-width="0.55"/>
<line x1="415.5" y1="41" x2="415.5" y2="48.5" stroke="#262626" stroke-width="0.55"/>
<line x1="399.9" y1="31.5" x2="460.3" y2="31.5" stroke="#262626" stroke-width="0.55"/>
<polygon points="399.9,31.6 404.5,30.68 404.5,32.52" fill="#111"/>
<polygon points="460.3,31.6 455.7,32.52 455.7,30.68" fill="#111"/>
<text x="430.6" y="30.2" font-size="6.7" text-anchor="middle" fill="#222" textLength="32" lengthAdjust="spacingAndGlyphs" font-style="italic">4х170=680</text>
<line x1="399.9" y1="42.5" x2="415" y2="42.5" stroke="#262626" stroke-width="0.55"/>
<polygon points="399.9,42.7 404.5,41.78 404.5,43.62" fill="#111"/>
<polygon points="415,42.7 410.4,43.62 410.4,41.78" fill="#111"/>
<text x="407.5" y="41.4" font-size="6.7" text-anchor="middle" fill="#222" textLength="10.5" lengthAdjust="spacingAndGlyphs" font-style="italic">170</text>
<line x1="467.5" y1="29.5" x2="467.5" y2="48.5" stroke="#262626" stroke-width="0.55"/>
<line x1="487.5" y1="29.5" x2="487.5" y2="48.5" stroke="#262626" stroke-width="0.55"/>
<line x1="477.5" y1="41" x2="477.5" y2="48.5" stroke="#262626" stroke-width="0.55"/>
<line x1="467.8" y1="31.5" x2="487.4" y2="31.5" stroke="#262626" stroke-width="0.55"/>
<polygon points="467.8,31.6 472.4,30.68 472.4,32.52" fill="#111"/>
<polygon points="487.4,31.6 482.8,32.52 482.8,30.68" fill="#111"/>
<text x="477.6" y="30.2" font-size="6.7" text-anchor="middle" fill="#222" textLength="10.5" lengthAdjust="spacingAndGlyphs" font-style="italic">215</text>
<line x1="458.8" y1="42.5" x2="486.6" y2="42.5" stroke="#262626" stroke-width="0.55"/>
<polygon points="467.8,42.7 463.2,43.62 463.2,41.78" fill="#111"/>
<polygon points="477.6,42.7 482.2,41.78 482.2,43.62" fill="#111"/>
<text x="473.6" y="41.4" font-size="6.7" text-anchor="middle" fill="#222" textLength="10.5" lengthAdjust="spacingAndGlyphs" font-style="italic">108</text>
<line x1="349.8" y1="48.5" x2="371.3" y2="48.5" stroke="#262626" stroke-width="0.55"/>
<line x1="349.8" y1="92.5" x2="371.3" y2="92.5" stroke="#262626" stroke-width="0.55"/>
<line x1="359.8" y1="52.5" x2="375" y2="52.5" stroke="#262626" stroke-width="0.55"/>
<line x1="359.8" y1="88.5" x2="375" y2="88.5" stroke="#262626" stroke-width="0.55"/>
<line x1="351.5" y1="48.5" x2="351.5" y2="92.3" stroke="#262626" stroke-width="0.55"/>
<polygon points="351.3,48.5 352.22,53.1 350.38,53.1" fill="#111"/>
<polygon points="351.3,92.3 350.38,87.7 352.22,87.7" fill="#111"/>
<text x="349.6" y="71" font-size="6.7" text-anchor="middle" fill="#222" transform="rotate(-90 349.6 71)" textLength="11" lengthAdjust="spacingAndGlyphs" font-style="italic">495</text>
<line x1="361.5" y1="52.8" x2="361.5" y2="88.1" stroke="#262626" stroke-width="0.55"/>
<polygon points="361.4,52.8 362.32,57.4 360.48,57.4" fill="#111"/>
<polygon points="361.4,88.1 360.48,83.5 362.32,83.5" fill="#111"/>
<text x="359.7" y="71" font-size="6.7" text-anchor="middle" fill="#222" transform="rotate(-90 359.7 71)" textLength="11" lengthAdjust="spacingAndGlyphs" font-style="italic">395</text>
<line x1="489.4" y1="50.5" x2="515.2" y2="50.5" stroke="#262626" stroke-width="0.55"/>
<line x1="489.4" y1="70.5" x2="501.5" y2="70.5" stroke="#262626" stroke-width="0.55"/>
<line x1="489.4" y1="90.5" x2="515.2" y2="90.5" stroke="#262626" stroke-width="0.55"/>
<line x1="499.5" y1="50.3" x2="499.5" y2="70.2" stroke="#262626" stroke-width="0.55"/>
<polygon points="499.6,50.3 500.52,54.9 498.68,54.9" fill="#111"/>
<polygon points="499.6,70.2 498.68,65.6 500.52,65.6" fill="#111"/>
<text x="498" y="60.3" font-size="6.7" text-anchor="middle" fill="#222" transform="rotate(-90 498 60.3)" textLength="10.5" lengthAdjust="spacingAndGlyphs" font-style="italic">228</text>
<line x1="513.5" y1="50.3" x2="513.5" y2="90.4" stroke="#262626" stroke-width="0.55"/>
<polygon points="513.6,50.3 514.52,54.9 512.68,54.9" fill="#111"/>
<polygon points="513.6,90.4 512.68,85.8 514.52,85.8" fill="#111"/>
<text x="512" y="66.5" font-size="6.7" text-anchor="middle" fill="#222" transform="rotate(-90 512 66.5)" textLength="11" lengthAdjust="spacingAndGlyphs" font-style="italic">455</text>
<line x1="481.3" y1="57.7" x2="496.1" y2="41" stroke="#262626" stroke-width="0.55"/>
<line x1="496.1" y1="41.5" x2="537.5" y2="41.5" stroke="#262626" stroke-width="0.55"/>
<polygon points="487.2,50.8 489.42,46.89 490.8,48.1" fill="#111"/>
<text x="502" y="39.2" font-size="6.5" text-anchor="start" fill="#222" textLength="34.5" lengthAdjust="spacingAndGlyphs" font-style="italic">28 отв. Ø14</text>
<line x1="375.5" y1="88.1" x2="375.5" y2="105" stroke="#262626" stroke-width="0.55"/>
<line x1="390.5" y1="88.1" x2="390.5" y2="105" stroke="#262626" stroke-width="0.55"/>
<line x1="401.5" y1="88.1" x2="401.5" y2="105" stroke="#262626" stroke-width="0.55"/>
<line x1="458.5" y1="88.1" x2="458.5" y2="105" stroke="#262626" stroke-width="0.55"/>
<line x1="470.5" y1="88.1" x2="470.5" y2="105" stroke="#262626" stroke-width="0.55"/>
<line x1="485.5" y1="88.1" x2="485.5" y2="105" stroke="#262626" stroke-width="0.55"/>
<line x1="394.5" y1="92.3" x2="394.5" y2="114.8" stroke="#262626" stroke-width="0.55"/>
<line x1="398.5" y1="92.3" x2="398.5" y2="114.8" stroke="#262626" stroke-width="0.55"/>
<line x1="462.5" y1="92.3" x2="462.5" y2="114.8" stroke="#262626" stroke-width="0.55"/>
<line x1="465.5" y1="92.3" x2="465.5" y2="114.8" stroke="#262626" stroke-width="0.55"/>
<line x1="371.5" y1="92.3" x2="371.5" y2="125.5" stroke="#262626" stroke-width="0.55"/>
<line x1="489.5" y1="92.3" x2="489.5" y2="125.5" stroke="#262626" stroke-width="0.55"/>
<line x1="366.5" y1="103.5" x2="399.2" y2="103.5" stroke="#262626" stroke-width="0.55"/>
<polygon points="375,103.5 370.4,104.42 370.4,102.58" fill="#111"/>
<polygon points="390.7,103.5 395.3,102.58 395.3,104.42" fill="#111"/>
<text x="382.6" y="102.3" font-size="6.7" text-anchor="middle" fill="#222" textLength="10.5" lengthAdjust="spacingAndGlyphs" font-style="italic">155</text>
<line x1="401.8" y1="103.5" x2="458.8" y2="103.5" stroke="#262626" stroke-width="0.55"/>
<polygon points="401.8,103.5 406.4,102.58 406.4,104.42" fill="#111"/>
<polygon points="458.8,103.5 454.2,104.42 454.2,102.58" fill="#111"/>
<text x="430.5" y="102.3" font-size="6.7" text-anchor="middle" fill="#222" textLength="11" lengthAdjust="spacingAndGlyphs" font-style="italic">620</text>
<line x1="461.7" y1="103.5" x2="493.6" y2="103.5" stroke="#262626" stroke-width="0.55"/>
<polygon points="470.2,103.5 465.6,104.42 465.6,102.58" fill="#111"/>
<polygon points="485.1,103.5 489.7,102.58 489.7,104.42" fill="#111"/>
<text x="477.2" y="102.3" font-size="6.7" text-anchor="middle" fill="#222" textLength="10.5" lengthAdjust="spacingAndGlyphs" font-style="italic">155</text>
<line x1="371.3" y1="113.5" x2="394.5" y2="113.5" stroke="#262626" stroke-width="0.55"/>
<polygon points="371.3,113.2 375.9,112.28 375.9,114.12" fill="#111"/>
<polygon points="394.5,113.2 389.9,114.12 389.9,112.28" fill="#111"/>
<text x="383.5" y="112" font-size="6.7" text-anchor="middle" fill="#222" textLength="11" lengthAdjust="spacingAndGlyphs" font-style="italic">255</text>
<line x1="398.2" y1="113.5" x2="462.5" y2="113.5" stroke="#262626" stroke-width="0.55"/>
<polygon points="398.2,113.2 402.8,112.28 402.8,114.12" fill="#111"/>
<polygon points="462.5,113.2 457.9,114.12 457.9,112.28" fill="#111"/>
<text x="430.3" y="112" font-size="6.7" text-anchor="middle" fill="#222" textLength="11" lengthAdjust="spacingAndGlyphs" font-style="italic">720</text>
<line x1="465.9" y1="113.5" x2="489.4" y2="113.5" stroke="#262626" stroke-width="0.55"/>
<polygon points="465.9,113.2 470.5,112.28 470.5,114.12" fill="#111"/>
<polygon points="489.4,113.2 484.8,114.12 484.8,112.28" fill="#111"/>
<text x="477.8" y="112" font-size="6.7" text-anchor="middle" fill="#222" textLength="11" lengthAdjust="spacingAndGlyphs" font-style="italic">255</text>
<line x1="371.3" y1="123.5" x2="489.4" y2="123.5" stroke="#262626" stroke-width="0.55"/>
<polygon points="371.3,123.6 375.9,122.68 375.9,124.52" fill="#111"/>
<polygon points="489.4,123.6 484.8,124.52 484.8,122.68" fill="#111"/>
<text x="430.4" y="122.2" font-size="6.7" text-anchor="middle" fill="#222" textLength="13.5" lengthAdjust="spacingAndGlyphs" font-style="italic">1310</text>
<text x="379" y="184.2" font-size="9" text-anchor="middle" fill="#222" textLength="33" lengthAdjust="spacingAndGlyphs" font-style="italic">Б ( 1:15 )</text>
<circle cx="377.4" cy="237" r="42.2" fill="none" stroke="#141414" stroke-width="1.05"/>
<circle cx="377.4" cy="237" r="37.8" fill="none" stroke="#141414" stroke-width="1.05"/>
<circle cx="377.4" cy="237" r="40.4" fill="none" stroke="#333" stroke-width="0.5"/>
<line x1="332.5" y1="237.5" x2="420.5" y2="237.5" stroke="#262626" stroke-width="0.55"/>
<line x1="377.5" y1="191.5" x2="377.5" y2="282.5" stroke="#262626" stroke-width="0.55"/>
<line x1="384.81" y1="199.73" x2="385.98" y2="193.85" stroke="#141414" stroke-width="1.1"/>
<line x1="398.51" y1="205.4" x2="401.85" y2="200.42" stroke="#141414" stroke-width="1.1"/>
<line x1="409" y1="215.89" x2="413.98" y2="212.55" stroke="#141414" stroke-width="1.1"/>
<line x1="414.67" y1="229.59" x2="420.55" y2="228.42" stroke="#141414" stroke-width="1.1"/>
<line x1="414.67" y1="244.41" x2="420.55" y2="245.58" stroke="#141414" stroke-width="1.1"/>
<line x1="409" y1="258.11" x2="413.98" y2="261.45" stroke="#141414" stroke-width="1.1"/>
<line x1="398.51" y1="268.6" x2="401.85" y2="273.58" stroke="#141414" stroke-width="1.1"/>
<line x1="384.81" y1="274.27" x2="385.98" y2="280.15" stroke="#141414" stroke-width="1.1"/>
<line x1="369.99" y1="274.27" x2="368.82" y2="280.15" stroke="#141414" stroke-width="1.1"/>
<line x1="356.29" y1="268.6" x2="352.95" y2="273.58" stroke="#141414" stroke-width="1.1"/>
<line x1="345.8" y1="258.11" x2="340.82" y2="261.45" stroke="#141414" stroke-width="1.1"/>
<line x1="340.13" y1="244.41" x2="334.25" y2="245.58" stroke="#141414" stroke-width="1.1"/>
<line x1="340.13" y1="229.59" x2="334.25" y2="228.42" stroke="#141414" stroke-width="1.1"/>
<line x1="345.8" y1="215.89" x2="340.82" y2="212.55" stroke="#141414" stroke-width="1.1"/>
<line x1="356.29" y1="205.4" x2="352.95" y2="200.42" stroke="#141414" stroke-width="1.1"/>
<line x1="369.99" y1="199.73" x2="368.82" y2="193.85" stroke="#141414" stroke-width="1.1"/>
<line x1="337.5" y1="248.2" x2="418.03" y2="225.6" stroke="#262626" stroke-width="0.55"/>
<polygon points="418.03,225.6 414.04,227.67 413.54,225.9" fill="#111"/>
<polygon points="336.77,248.4 340.76,246.33 341.26,248.1" fill="#111"/>
<line x1="311.5" y1="248.5" x2="337.5" y2="248.5" stroke="#262626" stroke-width="0.55"/>
<text x="311.8" y="246.8" font-size="6.6" text-anchor="start" fill="#222" textLength="16" lengthAdjust="spacingAndGlyphs" font-style="italic">Ø920</text>
<line x1="340" y1="259" x2="409.98" y2="217.83" stroke="#262626" stroke-width="0.55"/>
<polygon points="409.98,217.83 406.66,220.86 405.72,219.27" fill="#111"/>
<polygon points="344.82,256.17 348.14,253.14 349.08,254.73" fill="#111"/>
<line x1="314.5" y1="259.5" x2="340" y2="259.5" stroke="#262626" stroke-width="0.55"/>
<text x="315.2" y="257.6" font-size="6.6" text-anchor="start" fill="#222" textLength="16" lengthAdjust="spacingAndGlyphs" font-style="italic">Ø820</text>
<line x1="413.2" y1="270.2" x2="348.14" y2="209.87" stroke="#262626" stroke-width="0.55"/>
<polygon points="348.14,209.87 352,212.19 350.74,213.54" fill="#111"/>
<polygon points="406.66,264.13 402.8,261.81 404.06,260.46" fill="#111"/>
<line x1="413.2" y1="270.5" x2="435.5" y2="270.5" stroke="#262626" stroke-width="0.55"/>
<text x="419.5" y="266.4" font-size="6.6" text-anchor="start" fill="#222" textLength="15.5" lengthAdjust="spacingAndGlyphs" font-style="italic">Ø880</text>
<line x1="390" y1="209.2" x2="403" y2="197" stroke="#262626" stroke-width="0.55"/>
<line x1="403" y1="197.5" x2="442.5" y2="197.5" stroke="#262626" stroke-width="0.55"/>
<polygon points="395.4,204.2 397.99,200.53 399.25,201.87" fill="#111"/>
<text x="410.8" y="194.6" font-size="6.5" text-anchor="start" fill="#222" textLength="32.3" lengthAdjust="spacingAndGlyphs" font-style="italic">16 отв. Ø14</text>
<rect x="96.5" y="291.5" width="56" height="57" fill="none" stroke="#141414" stroke-width="1"/>
<rect x="93.5" y="288.5" width="5" height="5" fill="#2a2a2a" stroke="#262626" stroke-width="0.7"/>
<rect x="150.5" y="288.5" width="5" height="5" fill="#2a2a2a" stroke="#262626" stroke-width="0.7"/>
<rect x="93.5" y="345.5" width="5" height="5" fill="#2a2a2a" stroke="#262626" stroke-width="0.7"/>
<rect x="150.5" y="345.5" width="5" height="5" fill="#2a2a2a" stroke="#262626" stroke-width="0.7"/>
<circle cx="124.3" cy="319.8" r="13.1" fill="none" stroke="#141414" stroke-width="1.6"/>
<circle cx="124.3" cy="319.8" r="11.4" fill="none" stroke="#262626" stroke-width="0.6"/>
<line x1="96.75" y1="290.65" x2="115.45" y2="309.45" stroke="#141414" stroke-width="0.95"/>
<line x1="95.25" y1="292.15" x2="113.95" y2="310.95" stroke="#141414" stroke-width="0.95"/>
<line x1="96.75" y1="348.95" x2="115.45" y2="330.15" stroke="#141414" stroke-width="0.95"/>
<line x1="95.25" y1="347.45" x2="113.95" y2="328.65" stroke="#141414" stroke-width="0.95"/>
<line x1="151.85" y1="290.65" x2="133.15" y2="309.45" stroke="#141414" stroke-width="0.95"/>
<line x1="153.35" y1="292.15" x2="134.65" y2="310.95" stroke="#141414" stroke-width="0.95"/>
<line x1="151.85" y1="348.95" x2="133.15" y2="330.15" stroke="#141414" stroke-width="0.95"/>
<line x1="153.35" y1="347.45" x2="134.65" y2="328.65" stroke="#141414" stroke-width="0.95"/>
<line x1="117.3" y1="319.5" x2="131.3" y2="319.5" stroke="#262626" stroke-width="0.55" stroke-dasharray="3 1 0.8 1"/>
<line x1="124.5" y1="312.8" x2="124.5" y2="326.8" stroke="#262626" stroke-width="0.55" stroke-dasharray="3 1 0.8 1"/>
<rect x="94.6" y="303.8" width="1.4" height="33.1" fill="none" stroke="#262626" stroke-width="0.6"/>
<line x1="95.5" y1="306" x2="95.5" y2="334.5" stroke="#333" stroke-width="0.4" stroke-dasharray="2 1"/>
<line x1="72.8" y1="288.5" x2="93.3" y2="288.5" stroke="#262626" stroke-width="0.55"/>
<line x1="72.8" y1="350.5" x2="93.3" y2="350.5" stroke="#262626" stroke-width="0.55"/>
<line x1="82" y1="291.5" x2="96" y2="291.5" stroke="#262626" stroke-width="0.55"/>
<line x1="82" y1="348.5" x2="96" y2="348.5" stroke="#262626" stroke-width="0.55"/>
<line x1="74.5" y1="288.7" x2="74.5" y2="350.9" stroke="#262626" stroke-width="0.55"/>
<polygon points="74.4,288.7 75.32,293.3 73.48,293.3" fill="#111"/>
<polygon points="74.4,350.9 73.48,346.3 75.32,346.3" fill="#111"/>
<text x="72.8" y="319.6" font-size="6.6" text-anchor="middle" fill="#222" transform="rotate(-90 72.8 319.6)" textLength="14" lengthAdjust="spacingAndGlyphs" font-style="italic">2306</text>
<line x1="83.5" y1="291.4" x2="83.5" y2="348.2" stroke="#262626" stroke-width="0.55"/>
<polygon points="83.6,291.4 84.52,296 82.68,296" fill="#111"/>
<polygon points="83.6,348.2 82.68,343.6 84.52,343.6" fill="#111"/>
<text x="82" y="319.6" font-size="6.6" text-anchor="middle" fill="#222" transform="rotate(-90 82 319.6)" textLength="14" lengthAdjust="spacingAndGlyphs" font-style="italic">2106</text>
<line x1="93.5" y1="350.9" x2="93.5" y2="372.5" stroke="#262626" stroke-width="0.55"/>
<line x1="155.5" y1="350.9" x2="155.5" y2="372.5" stroke="#262626" stroke-width="0.55"/>
<line x1="96.5" y1="348.2" x2="96.5" y2="361.5" stroke="#262626" stroke-width="0.55"/>
<line x1="152.5" y1="348.2" x2="152.5" y2="361.5" stroke="#262626" stroke-width="0.55"/>
<line x1="96" y1="359.5" x2="152.6" y2="359.5" stroke="#262626" stroke-width="0.55"/>
<polygon points="96,359.9 100.6,358.98 100.6,360.82" fill="#111"/>
<polygon points="152.6,359.9 148,360.82 148,358.98" fill="#111"/>
<text x="124.6" y="358.5" font-size="6.6" text-anchor="middle" fill="#222" textLength="14" lengthAdjust="spacingAndGlyphs" font-style="italic">2086</text>
<line x1="93.3" y1="370.5" x2="155.3" y2="370.5" stroke="#262626" stroke-width="0.55"/>
<polygon points="93.3,370.9 97.9,369.98 97.9,371.82" fill="#111"/>
<polygon points="155.3,370.9 150.7,371.82 150.7,369.98" fill="#111"/>
<text x="124.6" y="369.5" font-size="6.6" text-anchor="middle" fill="#222" textLength="14" lengthAdjust="spacingAndGlyphs" font-style="italic">2286</text>
<line x1="149.5" y1="271.8" x2="149.5" y2="288.7" stroke="#262626" stroke-width="0.55"/>
<line x1="155.5" y1="271.8" x2="155.5" y2="288.7" stroke="#262626" stroke-width="0.55"/>
<line x1="150.5" y1="278.6" x2="150.5" y2="290" stroke="#262626" stroke-width="0.55"/>
<line x1="154.5" y1="278.6" x2="154.5" y2="290" stroke="#262626" stroke-width="0.55"/>
<line x1="141" y1="273.5" x2="164.5" y2="273.5" stroke="#262626" stroke-width="0.55"/>
<polygon points="149.9,273.5 146.9,274.42 146.9,272.58" fill="#111"/>
<polygon points="155.3,273.5 158.3,272.58 158.3,274.42" fill="#111"/>
<line x1="142.5" y1="280.5" x2="161" y2="280.5" stroke="#262626" stroke-width="0.55"/>
<polygon points="150.8,280.2 148.2,281.12 148.2,279.28" fill="#111"/>
<polygon points="154.4,280.2 157,279.28 157,281.12" fill="#111"/>
<text x="153.2" y="272.4" font-size="6.2" text-anchor="middle" fill="#222" textLength="10.5" lengthAdjust="spacingAndGlyphs" font-style="italic">200</text>
<text x="153.2" y="279" font-size="5.8" text-anchor="middle" fill="#222" textLength="9" lengthAdjust="spacingAndGlyphs" font-style="italic">140</text>
<line x1="155.3" y1="288.5" x2="175" y2="288.5" stroke="#262626" stroke-width="0.55"/>
<line x1="155.3" y1="294.5" x2="175" y2="294.5" stroke="#262626" stroke-width="0.55"/>
<line x1="154.4" y1="290.5" x2="166.8" y2="290.5" stroke="#262626" stroke-width="0.55"/>
<line x1="154.4" y1="293.5" x2="166.8" y2="293.5" stroke="#262626" stroke-width="0.55"/>
<line x1="165.5" y1="279.3" x2="165.5" y2="302" stroke="#262626" stroke-width="0.55"/>
<polygon points="165.4,290 164.48,287.4 166.32,287.4" fill="#111"/>
<polygon points="165.4,293.6 166.32,296.2 164.48,296.2" fill="#111"/>
<line x1="173.5" y1="279.3" x2="173.5" y2="304" stroke="#262626" stroke-width="0.55"/>
<polygon points="173.6,288.7 172.68,285.7 174.52,285.7" fill="#111"/>
<polygon points="173.6,294.1 174.52,297.1 172.68,297.1" fill="#111"/>
<text x="164.3" y="296.6" font-size="5.8" text-anchor="middle" fill="#222" transform="rotate(-90 164.3 296.6)" textLength="9" lengthAdjust="spacingAndGlyphs" font-style="italic">140</text>
<text x="172.3" y="297.2" font-size="6.2" text-anchor="middle" fill="#222" transform="rotate(-90 172.3 297.2)" textLength="10.5" lengthAdjust="spacingAndGlyphs" font-style="italic">200</text>
<line x1="155.6" y1="290.2" x2="166.3" y2="279.3" stroke="#262626" stroke-width="0.55"/>
<line x1="166.3" y1="279.5" x2="208.2" y2="279.5" stroke="#262626" stroke-width="0.55"/>
<text x="174.4" y="276.6" font-size="6.5" text-anchor="start" fill="#222" textLength="33.5" lengthAdjust="spacingAndGlyphs" font-style="italic">12 отв. Ø18</text>
<text x="248.8" y="299.5" font-size="9" text-anchor="middle" fill="#222" textLength="33" lengthAdjust="spacingAndGlyphs" font-style="italic">В ( 1:10 )</text>
<rect x="223.5" y="312.5" width="54" height="54" fill="none" stroke="#141414" stroke-width="1"/>
<rect x="229.5" y="318.5" width="41" height="41" fill="none" stroke="#141414" stroke-width="1"/>
<circle cx="226.5" cy="315.2" r="0.9" fill="#111" stroke="#111" stroke-width="0.5"/>
<line x1="226.5" y1="313.2" x2="226.5" y2="317.2" stroke="#262626" stroke-width="0.6"/>
<circle cx="226.5" cy="363.3" r="0.9" fill="#111" stroke="#111" stroke-width="0.5"/>
<line x1="226.5" y1="361.3" x2="226.5" y2="365.3" stroke="#262626" stroke-width="0.6"/>
<circle cx="242.4" cy="315.2" r="0.9" fill="#111" stroke="#111" stroke-width="0.5"/>
<line x1="242.5" y1="313.2" x2="242.5" y2="317.2" stroke="#262626" stroke-width="0.6"/>
<circle cx="242.4" cy="363.3" r="0.9" fill="#111" stroke="#111" stroke-width="0.5"/>
<line x1="242.5" y1="361.3" x2="242.5" y2="365.3" stroke="#262626" stroke-width="0.6"/>
<circle cx="258.2" cy="315.2" r="0.9" fill="#111" stroke="#111" stroke-width="0.5"/>
<line x1="258.5" y1="313.2" x2="258.5" y2="317.2" stroke="#262626" stroke-width="0.6"/>
<circle cx="258.2" cy="363.3" r="0.9" fill="#111" stroke="#111" stroke-width="0.5"/>
<line x1="258.5" y1="361.3" x2="258.5" y2="365.3" stroke="#262626" stroke-width="0.6"/>
<circle cx="274" cy="315.2" r="0.9" fill="#111" stroke="#111" stroke-width="0.5"/>
<line x1="274.5" y1="313.2" x2="274.5" y2="317.2" stroke="#262626" stroke-width="0.6"/>
<circle cx="274" cy="363.3" r="0.9" fill="#111" stroke="#111" stroke-width="0.5"/>
<line x1="274.5" y1="361.3" x2="274.5" y2="365.3" stroke="#262626" stroke-width="0.6"/>
<circle cx="226.5" cy="331.2" r="0.9" fill="#111" stroke="#111" stroke-width="0.5"/>
<line x1="224.5" y1="331.5" x2="228.5" y2="331.5" stroke="#262626" stroke-width="0.6"/>
<circle cx="274" cy="331.2" r="0.9" fill="#111" stroke="#111" stroke-width="0.5"/>
<line x1="272" y1="331.5" x2="276" y2="331.5" stroke="#262626" stroke-width="0.6"/>
<circle cx="226.5" cy="347.2" r="0.9" fill="#111" stroke="#111" stroke-width="0.5"/>
<line x1="224.5" y1="347.5" x2="228.5" y2="347.5" stroke="#262626" stroke-width="0.6"/>
<circle cx="274" cy="347.2" r="0.9" fill="#111" stroke="#111" stroke-width="0.5"/>
<line x1="272" y1="347.5" x2="276" y2="347.5" stroke="#262626" stroke-width="0.6"/>
<line x1="271.4" y1="322.6" x2="276.3" y2="303.8" stroke="#262626" stroke-width="0.55"/>
<line x1="276.3" y1="303.5" x2="318.2" y2="303.5" stroke="#262626" stroke-width="0.55"/>
<polygon points="273.7,313.8 273.91,309.31 275.69,309.77" fill="#111"/>
<text x="284.3" y="301.5" font-size="6.2" text-anchor="start" fill="#222" textLength="32.3" lengthAdjust="spacingAndGlyphs" font-style="italic">12 отв. Ø14</text>
<line x1="270.5" y1="318.5" x2="295.2" y2="318.5" stroke="#262626" stroke-width="0.55"/>
<line x1="270.5" y1="359.5" x2="295.2" y2="359.5" stroke="#262626" stroke-width="0.55"/>
<line x1="277.1" y1="312.5" x2="306" y2="312.5" stroke="#262626" stroke-width="0.55"/>
<line x1="277.1" y1="366.5" x2="306" y2="366.5" stroke="#262626" stroke-width="0.55"/>
<line x1="293.5" y1="318.9" x2="293.5" y2="359.7" stroke="#262626" stroke-width="0.55"/>
<polygon points="293.6,318.9 294.52,323.5 292.68,323.5" fill="#111"/>
<polygon points="293.6,359.7 292.68,355.1 294.52,355.1" fill="#111"/>
<text x="292.2" y="335.2" font-size="5.8" text-anchor="middle" fill="#222" transform="rotate(-90 292.2 335.2)" textLength="9.5" lengthAdjust="spacingAndGlyphs" font-style="italic">300</text>
<rect x="289.2" y="342.6" width="2.8" height="2.8" fill="none" stroke="#262626" stroke-width="0.5"/>
<line x1="304.5" y1="312.3" x2="304.5" y2="366.4" stroke="#262626" stroke-width="0.55"/>
<polygon points="304.4,312.3 305.32,316.9 303.48,316.9" fill="#111"/>
<polygon points="304.4,366.4 303.48,361.8 305.32,361.8" fill="#111"/>
<text x="303" y="332.6" font-size="5.8" text-anchor="middle" fill="#222" transform="rotate(-90 303 332.6)" textLength="9.5" lengthAdjust="spacingAndGlyphs" font-style="italic">400</text>
<rect x="300" y="340" width="2.8" height="2.8" fill="none" stroke="#262626" stroke-width="0.5"/>
<line x1="198.6" y1="315.5" x2="226.5" y2="315.5" stroke="#262626" stroke-width="0.55"/>
<line x1="198.6" y1="363.5" x2="226.5" y2="363.5" stroke="#262626" stroke-width="0.55"/>
<line x1="209.5" y1="331.5" x2="226.5" y2="331.5" stroke="#262626" stroke-width="0.55"/>
<line x1="200.5" y1="315.2" x2="200.5" y2="363.3" stroke="#262626" stroke-width="0.55"/>
<polygon points="200.1,315.2 201.02,319.8 199.18,319.8" fill="#111"/>
<polygon points="200.1,363.3 199.18,358.7 201.02,358.7" fill="#111"/>
<text x="198.5" y="338.5" font-size="6.1" text-anchor="middle" fill="#222" transform="rotate(-90 198.5 338.5)" textLength="29.5" lengthAdjust="spacingAndGlyphs" font-style="italic">3х117=350</text>
<line x1="211.5" y1="315.2" x2="211.5" y2="331.2" stroke="#262626" stroke-width="0.55"/>
<polygon points="211,315.2 211.92,319.8 210.08,319.8" fill="#111"/>
<polygon points="211,331.2 210.08,326.6 211.92,326.6" fill="#111"/>
<text x="209.4" y="323.4" font-size="6.1" text-anchor="middle" fill="#222" transform="rotate(-90 209.4 323.4)" textLength="8.6" lengthAdjust="spacingAndGlyphs" font-style="italic">117</text>
<line x1="226.5" y1="366.4" x2="226.5" y2="391" stroke="#262626" stroke-width="0.55"/>
<line x1="242.5" y1="366.4" x2="242.5" y2="380" stroke="#262626" stroke-width="0.55"/>
<line x1="274.5" y1="366.4" x2="274.5" y2="391" stroke="#262626" stroke-width="0.55"/>
<line x1="226.5" y1="378.5" x2="242.4" y2="378.5" stroke="#262626" stroke-width="0.55"/>
<polygon points="226.5,378.4 231.1,377.48 231.1,379.32" fill="#111"/>
<polygon points="242.4,378.4 237.8,379.32 237.8,377.48" fill="#111"/>
<text x="236" y="377.2" font-size="6.1" text-anchor="middle" fill="#222" textLength="8.6" lengthAdjust="spacingAndGlyphs" font-style="italic">117</text>
<line x1="226.5" y1="389.5" x2="274" y2="389.5" stroke="#262626" stroke-width="0.55"/>
<polygon points="226.5,389.1 231.1,388.18 231.1,390.02" fill="#111"/>
<polygon points="274,389.1 269.4,390.02 269.4,388.18" fill="#111"/>
<text x="251.2" y="387.8" font-size="6.1" text-anchor="middle" fill="#222" textLength="30" lengthAdjust="spacingAndGlyphs" font-style="italic">3х117=350</text>
<polygon points="472,222.2 512,201.8 551.8,221.6 512,242.2" fill="#fff" stroke="#141414" stroke-width="1.2" stroke-linejoin="round"/>
<polyline points="472,222.2 472,228 512,248 551.8,227.4 551.8,221.6" fill="none" stroke="#141414" stroke-width="1.2" stroke-linejoin="round"/>
<line x1="512.5" y1="242.2" x2="512.5" y2="248" stroke="#141414" stroke-width="1.2"/>
<polyline points="473,228.6 505,270.1 512,274.5 519.6,270.1 550.8,228" fill="none" stroke="#141414" stroke-width="1.2" stroke-linejoin="round"/>
<line x1="512.5" y1="249" x2="512.5" y2="274.5" stroke="#141414" stroke-width="1.2"/>
<polygon points="467.8,226.6 470.6,224.8 473.4,226.6 470.6,228.4" fill="#1a1a1a" stroke="#262626" stroke-width="0.6" stroke-linejoin="round"/>
<polygon points="509.2,249.4 512,247.6 514.8,249.4 512,251.2" fill="#1a1a1a" stroke="#262626" stroke-width="0.6" stroke-linejoin="round"/>
<polygon points="550.4,226 553.2,224.2 556,226 553.2,227.8" fill="#1a1a1a" stroke="#262626" stroke-width="0.6" stroke-linejoin="round"/>
<polygon points="504,269.8 505.6,268.7 507.2,269.8 505.6,270.9" fill="#1a1a1a" stroke="#262626" stroke-width="0.5" stroke-linejoin="round"/>
<polygon points="517.3,269.8 518.9,268.7 520.5,269.8 518.9,270.9" fill="#1a1a1a" stroke="#262626" stroke-width="0.5" stroke-linejoin="round"/>
<path d="M491.4,172 L491.4,191 A5.8,2.6 0 0 0 503,191 L503,172 Z" fill="#fff" stroke="#141414" stroke-width="1.2" stroke-linejoin="round"/>
<path d="M491.4,191 L494,210.4 A3.8,1.3 0 0 0 501.6,210.4 L503,191 A5.8,2.6 0 0 1 491.4,191 Z" fill="#fff" stroke="#141414" stroke-width="1.2" stroke-linejoin="round"/>
<ellipse cx="497.8" cy="211.7" rx="4.4" ry="1.5" fill="#333" stroke="#141414" stroke-width="0.9"/>
<path d="M519.9,180 L519.9,204.4 A6.95,2.6 0 0 0 533.8,204.4 L533.8,180 Z" fill="#fff" stroke="#141414" stroke-width="1.2" stroke-linejoin="round"/>
<path d="M519.9,204.4 L522.6,226.6 A4,1.3 0 0 0 530.6,226.6 L533.8,204.4 A6.95,2.6 0 0 1 519.9,204.4 Z" fill="#fff" stroke="#141414" stroke-width="1.2" stroke-linejoin="round"/>
<ellipse cx="526.6" cy="227.9" rx="4.6" ry="1.5" fill="#333" stroke="#141414" stroke-width="0.9"/>
<path d="M519.6,166 L519.6,178 A7,4 0 0 0 533.6,178 L533.6,166 Z" fill="#fff" stroke="#141414" stroke-width="1.2" stroke-linejoin="round"/>
<path d="M521.6,166 L521.6,176.6 A5,3.4 0 0 0 531.6,176.6 L531.6,166" fill="none" stroke="#141414" stroke-width="1.2" stroke-linejoin="round"/>
<path d="M474.7,168.5 L474.7,195.6 A8.25,2.6 0 0 0 491.2,195.6 L491.2,168.5 Z" fill="#fff" stroke="#141414" stroke-width="1.2" stroke-linejoin="round"/>
<path d="M474.7,195.6 L480,217.8 A3.85,1.3 0 0 0 487.7,217.8 L491.2,195.6 A8.25,2.6 0 0 1 474.7,195.6 Z" fill="#fff" stroke="#141414" stroke-width="1.2" stroke-linejoin="round"/>
<ellipse cx="483.85" cy="219.1" rx="4.45" ry="1.5" fill="#333" stroke="#141414" stroke-width="0.9"/>
<path d="M474.7,169 Q474.7,164.6 480.4,163.6 L491.2,166 L491.2,169 Z" fill="#fff" stroke="#141414" stroke-width="1.2" stroke-linejoin="round"/>
<path d="M533.8,170 L533.8,195.2 A7.7,2.6 0 0 0 549.2,195.2 L549.2,170 Z" fill="#fff" stroke="#141414" stroke-width="1.2" stroke-linejoin="round"/>
<path d="M533.8,195.2 L536.5,218.8 A4.05,1.3 0 0 0 544.6,218.8 L549.2,195.2 A7.7,2.6 0 0 1 533.8,195.2 Z" fill="#fff" stroke="#141414" stroke-width="1.2" stroke-linejoin="round"/>
<ellipse cx="540.55" cy="220.1" rx="4.65" ry="1.5" fill="#333" stroke="#141414" stroke-width="0.9"/>
<path d="M534.4,158 L534.4,170 A7,4 0 0 0 548.4,170 L548.4,158 Z" fill="#fff" stroke="#141414" stroke-width="1.2" stroke-linejoin="round"/>
<path d="M536.4,158 L536.4,168.6 A5,3.4 0 0 0 546.4,168.6 L546.4,158" fill="none" stroke="#141414" stroke-width="1.2" stroke-linejoin="round"/>
<path d="M504.4,187 L504.4,210.8 A8.1,2.6 0 0 0 520.6,210.8 L520.6,187 Z" fill="#fff" stroke="#141414" stroke-width="1.2" stroke-linejoin="round"/>
<path d="M504.4,210.8 L508,235 A4.3,1.3 0 0 0 516.6,235 L520.6,210.8 A8.1,2.6 0 0 1 504.4,210.8 Z" fill="#fff" stroke="#141414" stroke-width="1.2" stroke-linejoin="round"/>
<ellipse cx="512.3" cy="236.3" rx="4.9" ry="1.5" fill="#333" stroke="#141414" stroke-width="0.9"/>
<path d="M504.8,172 L504.8,186.5 A7.5,4 0 0 0 519.8,186.5 L519.8,172 Z" fill="#fff" stroke="#141414" stroke-width="1.2" stroke-linejoin="round"/>
<path d="M506.8,172 L506.8,185.1 A5.5,3.4 0 0 0 517.8,185.1 L517.8,172" fill="none" stroke="#141414" stroke-width="1.2" stroke-linejoin="round"/>
<line x1="478.5" y1="158.5" x2="478.5" y2="163.6" stroke="#141414" stroke-width="1"/>
<line x1="480.5" y1="158.5" x2="480.5" y2="163.6" stroke="#141414" stroke-width="1"/>
<line x1="482.5" y1="158.5" x2="482.5" y2="163.6" stroke="#141414" stroke-width="1"/>
<line x1="541.5" y1="158.5" x2="541.5" y2="163.2" stroke="#141414" stroke-width="1"/>
<line x1="543.5" y1="158.5" x2="543.5" y2="163.2" stroke="#141414" stroke-width="1"/>
<line x1="545.5" y1="158.5" x2="545.5" y2="163.2" stroke="#141414" stroke-width="1"/>
<polygon points="477.8,167 477.8,176.2 504,187.6 504,178.4" fill="#fff" stroke="#141414" stroke-width="1.6" stroke-linejoin="round"/>
<polygon points="479.9,169.8 479.9,175.6 484.4,177.6 484.4,171.8" fill="#fff" stroke="#141414" stroke-width="1.7" stroke-linejoin="round"/>
<polygon points="496.6,177.2 496.6,183 501.2,185 501.2,179.2" fill="#fff" stroke="#141414" stroke-width="1.7" stroke-linejoin="round"/>
<polygon points="477.8,167 481,165.2 507.2,176.6 504,178.4" fill="#fff" stroke="#141414" stroke-width="1.4" stroke-linejoin="round"/>
<line x1="485" y1="173.2" x2="496.2" y2="178.1" stroke="#141414" stroke-width="1"/>
<line x1="485" y1="177.2" x2="496.2" y2="182.1" stroke="#141414" stroke-width="1"/>
<polygon points="504,178.4 507.2,176.6 507.2,185.8 504,187.6" fill="#fff" stroke="#141414" stroke-width="1.4" stroke-linejoin="round"/>
<polygon points="471.6,149.4 511.9,126.6 552,150.1 552,157.6 512.2,178.3 471.6,157.6" fill="#fff" stroke="#141414" stroke-width="1.2" stroke-linejoin="round"/>
<polyline points="471.6,149.4 512.2,172.1 552,150.1" fill="none" stroke="#141414" stroke-width="1.2" stroke-linejoin="round"/>
<line x1="512.5" y1="172.1" x2="512.5" y2="178.3" stroke="#141414" stroke-width="1.2"/>
<line x1="471.6" y1="149.4" x2="499.6" y2="144.6" stroke="#141414" stroke-width="0.8"/>
<line x1="552" y1="150.1" x2="524.3" y2="144.4" stroke="#141414" stroke-width="0.8"/>
<line x1="511.5" y1="126.6" x2="511.5" y2="135.3" stroke="#141414" stroke-width="0.8"/>
<line x1="511.9" y1="151.3" x2="512.1" y2="172" stroke="#141414" stroke-width="0.8"/>
<path d="M499.5,144.4 A12.4,6.9 0 0 0 524.3,144.4" fill="none" stroke="#141414" stroke-width="1" stroke-linejoin="round"/>
<ellipse cx="511.9" cy="142.2" rx="12.4" ry="6.9" fill="#fff" stroke="#141414" stroke-width="1.5"/>
<ellipse cx="511.9" cy="142.8" rx="10.1" ry="4.6" fill="none" stroke="#141414" stroke-width="1"/>
<path d="M505.5,140.2 Q511.8,138.4 518.2,140.2 Q511.8,143 505.5,140.2 Z" fill="#222" stroke="#262626" stroke-width="0.4" stroke-linejoin="round"/>
</svg>
</body></html>
